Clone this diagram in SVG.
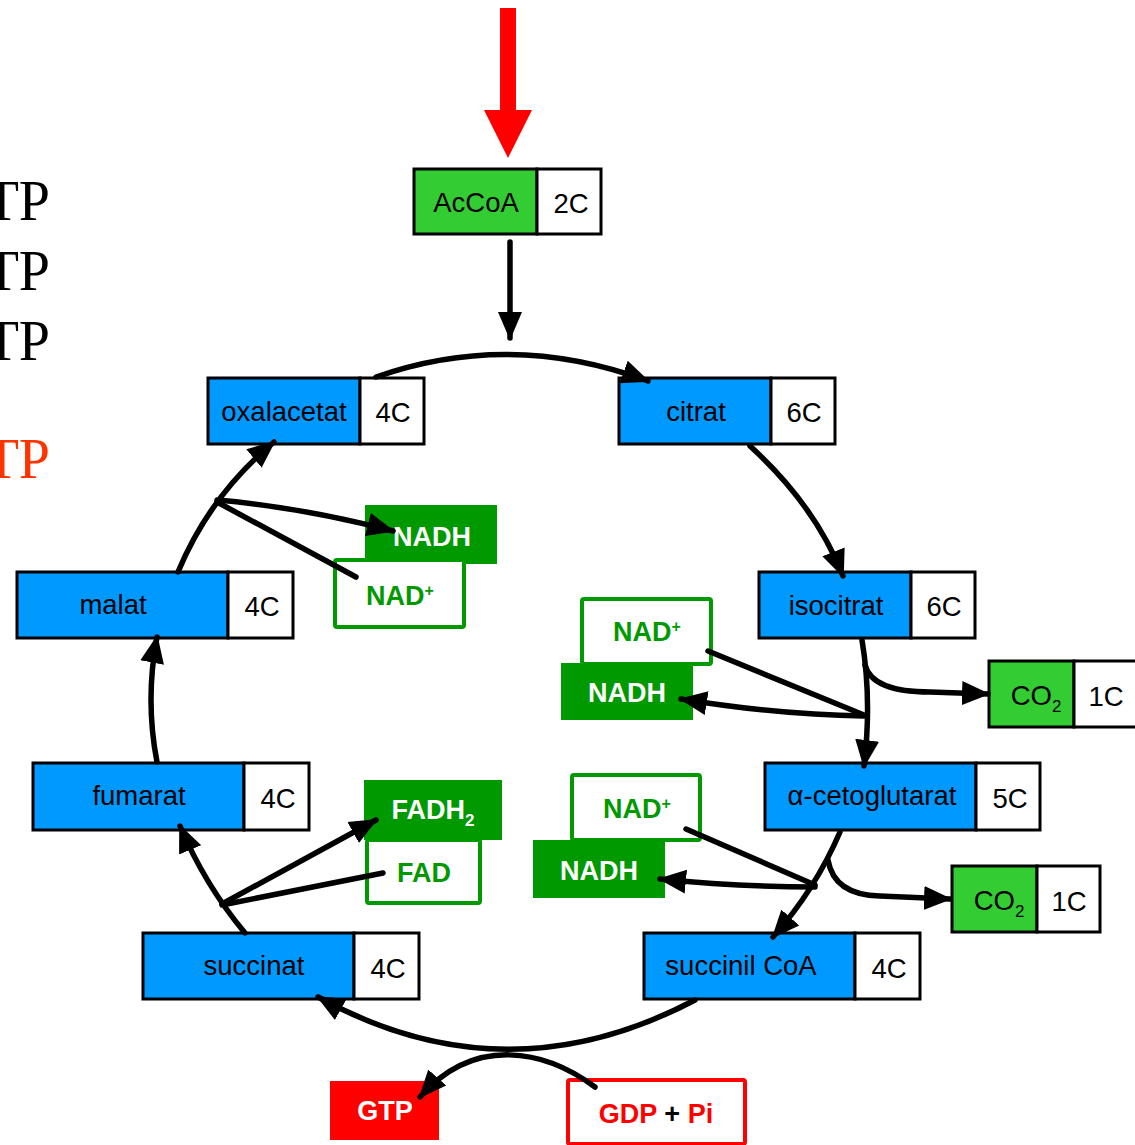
<svg xmlns="http://www.w3.org/2000/svg" width="1135" height="1145" viewBox="0 0 1135 1145">
  <style>
    .box { stroke: #000; stroke-width: 3; }
    .blue { fill: #0099ff; }
    .lime { fill: #33cc33; }
    .white { fill: #fff; }
    .lbl { font-family: "Liberation Sans", Arial, sans-serif; font-size: 27.5px; fill: #000; text-anchor: middle; }
    .bold { font-family: "Liberation Sans", Arial, sans-serif; font-size: 27px; font-weight: bold; text-anchor: middle; }
    .wtxt { fill: #fff; }
    .gtxt { fill: #009900; }
    .rtxt { fill: #ff0000; }
    .side { font-family: "Liberation Serif", "Times New Roman", serif; font-size: 56px; text-anchor: end; }
    .conn { fill: none; stroke: #000; stroke-width: 5.5; stroke-linecap: round; }
    .gfill { fill: #009900; }
    .gout { fill: #fff; stroke: #009900; stroke-width: 4; }
  </style>
  <defs>
    <marker id="arrow" markerUnits="userSpaceOnUse" markerWidth="28" markerHeight="26" viewBox="0 0 28 26" refX="26" refY="13" orient="auto">
      <path d="M0,1 L28,13 L0,25 z" fill="#000"/>
    </marker>
  </defs>

  <!-- ATP tally on the left edge -->
  <g id="side-labels">
    <text class="side" x="50" y="220" fill="#000">TP</text>
    <text class="side" x="50" y="290" fill="#000">TP</text>
    <text class="side" x="50" y="360" fill="#000">TP</text>
    <text class="side" x="50" y="478" fill="#ff3300">TP</text>
  </g>

  <!-- entry arrow -->
  <g id="entry-arrow">
    <rect x="500" y="8" width="16" height="104" fill="#ff0000"/>
    <polygon points="484,110 532,110 508,158" fill="#ff0000"/>
  </g>

  <!-- nodes -->
  <g id="accoa">
    <rect class="box lime" x="414" y="169" width="123" height="65"/>
    <rect class="box white" x="537" y="169" width="64" height="65"/>
    <text class="lbl" x="476" y="212">AcCoA</text>
    <text class="lbl" x="571" y="213">2C</text>
  </g>
  <g id="oxalacetat">
    <rect class="box blue" x="208" y="378" width="152" height="66"/>
    <rect class="box white" x="360" y="378" width="64" height="66"/>
    <text class="lbl" x="284" y="421">oxalacetat</text>
    <text class="lbl" x="393" y="422">4C</text>
  </g>
  <g id="citrat">
    <rect class="box blue" x="619" y="378" width="152" height="66"/>
    <rect class="box white" x="771" y="378" width="64" height="66"/>
    <text class="lbl" x="696" y="421">citrat</text>
    <text class="lbl" x="804" y="422">6C</text>
  </g>
  <g id="isocitrat">
    <rect class="box blue" x="759" y="572" width="152" height="66"/>
    <rect class="box white" x="911" y="572" width="64" height="66"/>
    <text class="lbl" x="836" y="615">isocitrat</text>
    <text class="lbl" x="944" y="616">6C</text>
  </g>
  <g id="malat">
    <rect class="box blue" x="17" y="572" width="211" height="66"/>
    <rect class="box white" x="228" y="572" width="65" height="66"/>
    <text class="lbl" x="113" y="614">malat</text>
    <text class="lbl" x="262" y="616">4C</text>
  </g>
  <g id="fumarat">
    <rect class="box blue" x="33" y="763" width="211" height="67"/>
    <rect class="box white" x="244" y="763" width="65" height="67"/>
    <text class="lbl" x="139" y="805">fumarat</text>
    <text class="lbl" x="278" y="808">4C</text>
  </g>
  <g id="cetoglutarat">
    <rect class="box blue" x="765" y="763" width="211" height="67"/>
    <rect class="box white" x="976" y="763" width="64" height="67"/>
    <text class="lbl" x="872" y="805">α-cetoglutarat</text>
    <text class="lbl" x="1010" y="808">5C</text>
  </g>
  <g id="succinat">
    <rect class="box blue" x="143" y="933" width="211" height="66"/>
    <rect class="box white" x="354" y="933" width="65" height="66"/>
    <text class="lbl" x="254" y="975">succinat</text>
    <text class="lbl" x="388" y="978">4C</text>
  </g>
  <g id="succinil-coa">
    <rect class="box blue" x="644" y="933" width="211" height="66"/>
    <rect class="box white" x="855" y="933" width="65" height="66"/>
    <text class="lbl" x="741" y="975">succinil CoA</text>
    <text class="lbl" x="889" y="978">4C</text>
  </g>
  <g id="co2-a">
    <rect class="box lime" x="989" y="661" width="85" height="66"/>
    <rect class="box white" x="1074" y="661" width="75" height="66"/>
    <text class="lbl" x="1036" y="705">CO<tspan font-size="17" dy="7">2</tspan></text>
    <text class="lbl" x="1106" y="706">1C</text>
  </g>
  <g id="co2-b">
    <rect class="box lime" x="952" y="866" width="85" height="66"/>
    <rect class="box white" x="1037" y="866" width="63" height="66"/>
    <text class="lbl" x="999" y="910">CO<tspan font-size="17" dy="7">2</tspan></text>
    <text class="lbl" x="1069" y="911">1C</text>
  </g>

  <!-- cofactors -->
  <g id="nadh-1">
    <rect class="gfill" x="365" y="505" width="132" height="59"/>
    <text class="bold wtxt" x="432" y="546">NADH</text>
  </g>
  <g id="nad-1">
    <rect class="gout" x="335" y="560" width="129" height="67" rx="2"/>
    <text class="bold gtxt" x="400" y="605">NAD<tspan font-size="16" dy="-9">+</tspan></text>
  </g>
  <g id="nad-2">
    <rect class="gout" x="582" y="599" width="129" height="65" rx="2"/>
    <text class="bold gtxt" x="647" y="641">NAD<tspan font-size="16" dy="-9">+</tspan></text>
  </g>
  <g id="nadh-2">
    <rect class="gfill" x="561" y="663" width="132" height="57"/>
    <text class="bold wtxt" x="627" y="702">NADH</text>
  </g>
  <g id="nad-3">
    <rect class="gout" x="572" y="775" width="128" height="65" rx="2"/>
    <text class="bold gtxt" x="637" y="818">NAD<tspan font-size="16" dy="-9">+</tspan></text>
  </g>
  <g id="nadh-3">
    <rect class="gfill" x="533" y="840" width="132" height="58"/>
    <text class="bold wtxt" x="599" y="880">NADH</text>
  </g>
  <g id="fadh2">
    <rect class="gfill" x="364" y="780" width="138" height="60"/>
    <text class="bold wtxt" x="433" y="819">FADH<tspan font-size="17" dy="7">2</tspan></text>
  </g>
  <g id="fad">
    <rect class="gout" x="367" y="840" width="113" height="63" rx="2"/>
    <text class="bold gtxt" x="424" y="882">FAD</text>
  </g>
  <g id="gtp">
    <rect x="330" y="1081" width="109" height="59" fill="#ff0000"/>
    <text class="bold wtxt" x="385" y="1120">GTP</text>
  </g>
  <g id="gdp-pi">
    <rect x="568" y="1080" width="177" height="64" rx="2" fill="#fff" stroke="#ff0000" stroke-width="4"/>
    <text class="bold" x="656" y="1123"><tspan class="rtxt">GDP</tspan><tspan fill="#000"> + </tspan><tspan class="rtxt">Pi</tspan></text>
  </g>

  <!-- connectors, drawn over the boxes they touch -->
  <g id="connectors">
    <path class="conn" d="M510 242 L510 338" marker-end="url(#arrow)"/>
    <path class="conn" d="M376 377 Q510 330 648 381" marker-end="url(#arrow)"/>
    <path class="conn" d="M750 446 Q815 505 843 576" marker-end="url(#arrow)"/>
    <!-- isocitrat -> alpha-cetoglutarat, CO2 and NADH side branches -->
    <path class="conn" d="M862 640 Q872 700 864 766" marker-end="url(#arrow)"/>
    <path class="conn" d="M865 665 Q872 692 930 692 L988 694" marker-end="url(#arrow)"/>
    <path class="conn" d="M708 651 L864 715"/>
    <path class="conn" d="M864 716 Q780 715 681 699" marker-end="url(#arrow)"/>
    <!-- alpha-cetoglutarat -> succinil CoA -->
    <path class="conn" d="M840 832 Q815 890 773 937" marker-end="url(#arrow)"/>
    <path class="conn" d="M828 860 Q834 895 880 896 L950 899" marker-end="url(#arrow)"/>
    <path class="conn" d="M686 829 L815 885"/>
    <path class="conn" d="M815 887 Q740 887 660 879" marker-end="url(#arrow)"/>
    <!-- succinil CoA -> succinat, GDP -> GTP -->
    <path class="conn" d="M695 1000 Q505 1100 318 997" marker-end="url(#arrow)"/>
    <path class="conn" d="M595 1087 C545 1050 475 1035 420 1097" marker-end="url(#arrow)"/>
    <!-- succinat -> fumarat, FAD -> FADH2 -->
    <path class="conn" d="M245 933 Q205 885 180 826" marker-end="url(#arrow)"/>
    <path class="conn" d="M222 904 L376 820" marker-end="url(#arrow)"/>
    <path class="conn" d="M383 873 L222 905"/>
    <!-- fumarat -> malat -->
    <path class="conn" d="M157 762 Q145 700 157 637" marker-end="url(#arrow)"/>
    <!-- malat -> oxalacetat, NAD+ -> NADH -->
    <path class="conn" d="M178 572 Q210 495 274 442" marker-end="url(#arrow)"/>
    <path class="conn" d="M217 500 Q300 507 393 531" marker-end="url(#arrow)"/>
    <path class="conn" d="M356 577 L217 502"/>
  </g>
</svg>
